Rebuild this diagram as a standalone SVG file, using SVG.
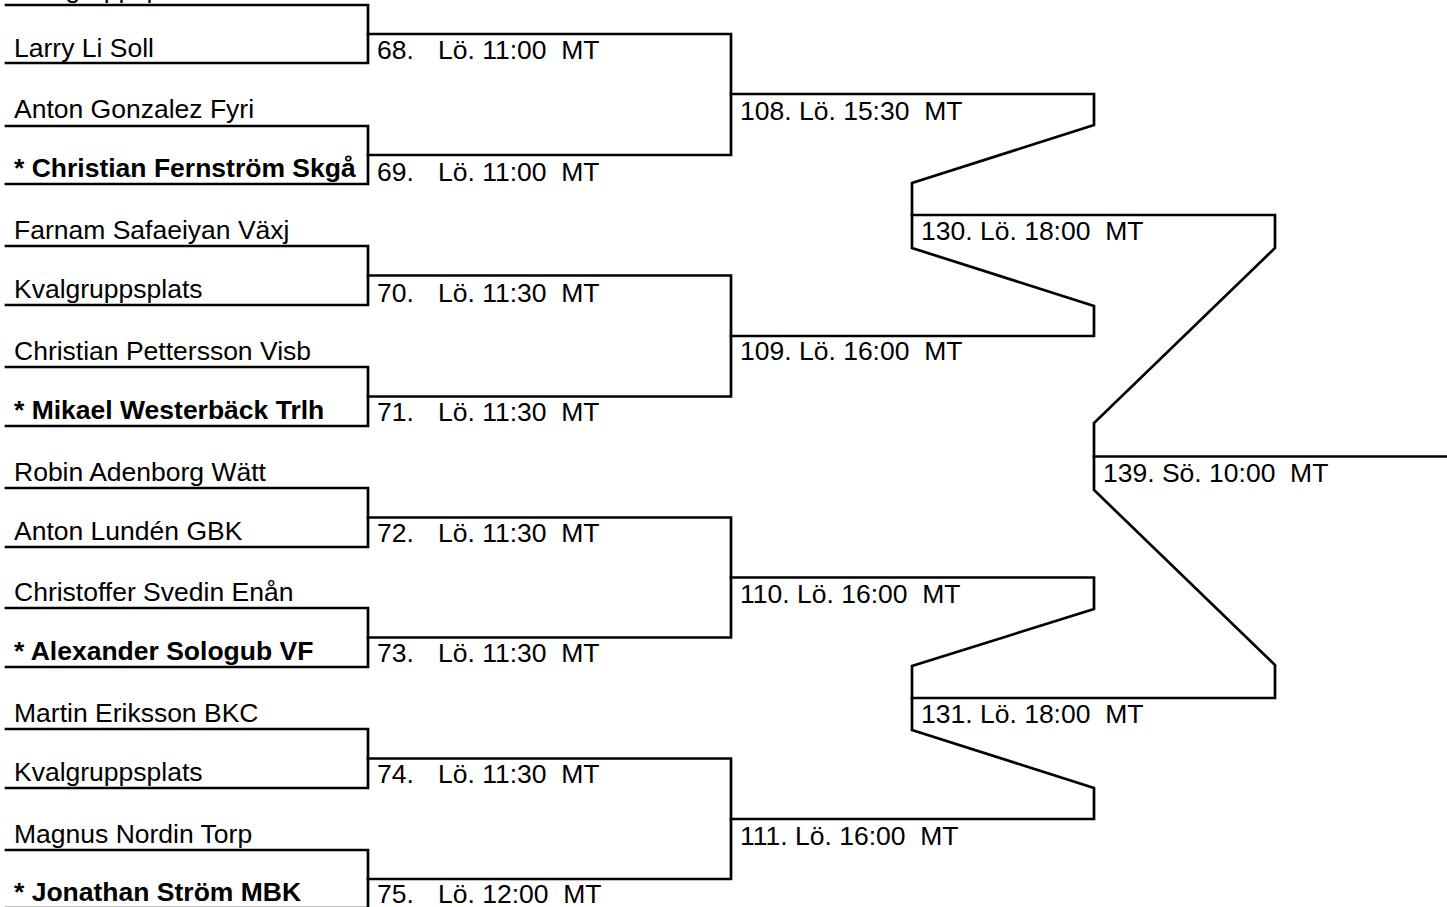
<svg xmlns="http://www.w3.org/2000/svg" width="1447" height="907" viewBox="0 0 1447 907">
<style>
text{font-family:"Liberation Sans",Arial,sans-serif;font-size:26.5px;fill:#000;white-space:pre}
.b{font-weight:bold}
.c path{fill:none;stroke:#000;stroke-width:2.7;stroke-linejoin:miter;stroke-linecap:square}
</style>
<rect width="1447" height="907" fill="#fff"/>
<g class="c" id="connectors">
<path d="M6 5H368V63H6"/>
<path d="M6 126H368V184H6"/>
<path d="M6 246H368V305H6"/>
<path d="M6 367H368V426H6"/>
<path d="M6 488H368V547H6"/>
<path d="M6 608H368V667H6"/>
<path d="M6 729H368V788H6"/>
<path d="M6 850H368V908H6"/>
<path d="M368 34H731V155H368"/>
<path d="M368 275.5H731V396.5H368"/>
<path d="M368 517.5H731V637.5H368"/>
<path d="M368 758.5H731V879H368"/>
<path d="M731 94H1094V125L912 183V248L1094 306V336H731"/>
<path d="M731 577.5H1094V609L912 666V730L1094 788V819H731"/>
<path d="M912 215H1275V248L1094 423V490L1275 665V698H912"/>
<path d="M1094 456.5H1447"/>
</g>
<g id="p1"><text x="14" y="-2.5">Kvalgruppsplats</text></g>
<g id="p2"><text x="14" y="56.5">Larry Li Soll</text></g>
<g id="p3"><text x="14" y="118">Anton Gonzalez Fyri</text></g>
<g id="p4"><text x="14" y="177" class="b">* Christian Fernström Skgå</text></g>
<g id="p5"><text x="14" y="239">Farnam Safaeiyan Växj</text></g>
<g id="p6"><text x="14" y="298">Kvalgruppsplats</text></g>
<g id="p7"><text x="14" y="360">Christian Pettersson Visb</text></g>
<g id="p8"><text x="14" y="419" class="b">* Mikael Westerbäck Trlh</text></g>
<g id="p9"><text x="14" y="481">Robin Adenborg Wätt</text></g>
<g id="p10"><text x="14" y="540">Anton Lundén GBK</text></g>
<g id="p11"><text x="14" y="601">Christoffer Svedin Enån</text></g>
<g id="p12"><text x="14" y="660" class="b">* Alexander Sologub VF</text></g>
<g id="p13"><text x="14" y="722">Martin Eriksson BKC</text></g>
<g id="p14"><text x="14" y="781">Kvalgruppsplats</text></g>
<g id="p15"><text x="14" y="843">Magnus Nordin Torp</text></g>
<g id="p16"><text x="14" y="901" class="b">* Jonathan Ström MBK</text></g>
<g id="m68"><text x="377" y="58.5">68.</text><text x="438" y="58.5">Lö. 11:00  MT</text></g>
<g id="m69"><text x="377" y="180.5">69.</text><text x="438" y="180.5">Lö. 11:00  MT</text></g>
<g id="m70"><text x="377" y="301.5">70.</text><text x="438" y="301.5">Lö. 11:30  MT</text></g>
<g id="m71"><text x="377" y="421">71.</text><text x="438" y="421">Lö. 11:30  MT</text></g>
<g id="m72"><text x="377" y="542">72.</text><text x="438" y="542">Lö. 11:30  MT</text></g>
<g id="m73"><text x="377" y="662">73.</text><text x="438" y="662">Lö. 11:30  MT</text></g>
<g id="m74"><text x="377" y="782.5">74.</text><text x="438" y="782.5">Lö. 11:30  MT</text></g>
<g id="m75"><text x="377" y="903">75.</text><text x="438" y="903">Lö. 12:00  MT</text></g>
<g id="m108"><text x="740" y="119.5">108. Lö. 15:30  MT</text></g>
<g id="m109"><text x="740" y="360">109. Lö. 16:00  MT</text></g>
<g id="m110"><text x="740" y="603">110. Lö. 16:00  MT</text></g>
<g id="m111"><text x="740" y="844.5">111. Lö. 16:00  MT</text></g>
<g id="m130"><text x="921" y="240">130. Lö. 18:00  MT</text></g>
<g id="m131"><text x="921" y="723">131. Lö. 18:00  MT</text></g>
<g id="m139"><text x="1103" y="481.5">139. Sö. 10:00  MT</text></g>
</svg>
